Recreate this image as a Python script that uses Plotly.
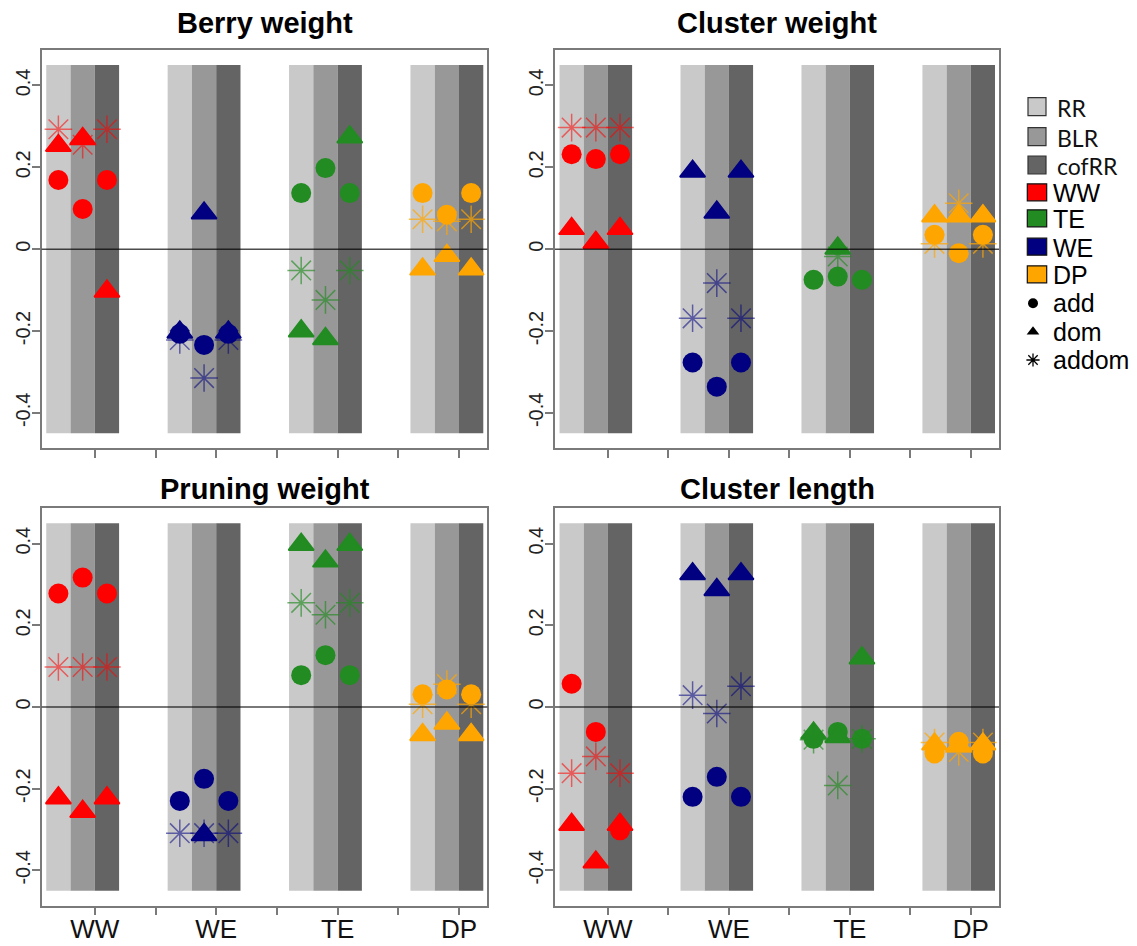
import plotly.graph_objects as go

# ---------------- data ----------------
traits = ["Berry weight", "Cluster weight", "Pruning weight", "Cluster length"]
populations = ["WW", "WE", "TE", "DP"]          # order along the x axis
methods = ["RR", "BLR", "cofRR"]                 # order inside each population
legend_pops = ["WW", "TE", "WE", "DP"]
effects = ["add", "dom", "addom"]

# values ordered: WW(RR,BLR,cofRR), WE(...), TE(...), DP(...)
berry_add   = [0.169, 0.098, 0.169,  -0.207, -0.234, -0.207,  0.137, 0.198, 0.137,  0.137, 0.084, 0.137]
berry_dom   = [0.253, 0.270, -0.103, -0.203, 0.088, -0.203,  -0.200, -0.219, 0.274, -0.049, -0.016, -0.049]
berry_addom = [0.293, 0.255, 0.293,  -0.222, -0.315, -0.222, -0.052, -0.124, -0.052, 0.073, 0.068, 0.073]

clw_add   = [0.232, 0.220, 0.232,  -0.277, -0.336, -0.277, -0.075, -0.067, -0.075, 0.035, -0.010, 0.035]
clw_dom   = [0.050, 0.016, 0.050,  0.190, 0.090, 0.190,    None, 0.002, None,     0.081, 0.081, 0.081]
clw_addom = [0.297, 0.297, 0.297,  -0.169, -0.083, -0.169, None, -0.018, None,    0.013, 0.112, 0.013]

prw_add   = [0.278, 0.317, 0.278,  -0.230, -0.176, -0.230, 0.078, 0.127, 0.078,   0.031, 0.043, 0.031]
prw_dom   = [-0.223, -0.256, -0.223, None, -0.313, None,   0.398, 0.357, 0.398,   -0.068, -0.040, -0.068]
prw_addom = [0.098, 0.098, 0.098,  -0.309, -0.309, -0.309, 0.255, 0.226, 0.255,   0.007, 0.056, 0.007]

cll_add   = [0.057, -0.061, -0.302, -0.220, -0.171, -0.220, -0.078, -0.061, -0.078, -0.114, -0.085, -0.114]
cll_dom   = [-0.288, -0.380, -0.288, 0.326, 0.287, 0.326,   -0.064, -0.073, 0.120,  -0.091, -0.095, -0.091]
cll_addom = [-0.162, -0.121, -0.162, 0.029, -0.016, 0.051,  -0.080, -0.192, -0.078, -0.087, -0.110, -0.087]

panel_values = [
    (berry_add, berry_dom, berry_addom),
    (clw_add, clw_dom, clw_addom),
    (prw_add, prw_dom, prw_addom),
    (cll_add, cll_dom, cll_addom),
]

y_ticks = [-0.4, -0.2, 0, 0.2, 0.4]
y_tick_text = ["-0.4", "-0.2", "0", "0.2", "0.4"]
x_tick_text = ["WW", "", "WE", "", "TE", "", "DP"]

# ---------------- styles / layout constants ----------------
W, H = 1137, 946
pop_colors = {"WW": "#FF0000", "WE": "#000080", "TE": "#228B22", "DP": "#FFA500"}
star_colors = {"WW": "rgba(255,0,0,0.55)", "WE": "rgba(0,0,128,0.55)",
               "TE": "rgba(34,139,34,0.65)", "DP": "rgba(255,165,0,0.7)"}
band_colors = ["#c9c9c9", "#989898", "#646464"]
group_center = [1.8, 3.8, 5.8, 7.8]
method_offset = [-0.4, 0.0, 0.4]
band_half = 0.45
XR = [1.125, 8.466]
YR = [-0.4866, 0.4866]
AX_COL = "#7a7a7a"
FONT = "Liberation Sans, Arial, sans-serif"

dom_x = [[41.7 / W, 487.3 / W], [555 / W, 999 / W]]
dom_y = [[1 - 448.3 / H, 1 - 50 / H], [1 - 905.7 / H, 1 - 508.3 / H]]

fig = go.Figure()
layout = dict(width=W, height=H, margin=dict(l=0, r=0, t=0, b=0, autoexpand=False),
              paper_bgcolor="white", plot_bgcolor="rgba(0,0,0,0)",
              showlegend=False, barmode="overlay", shapes=[], annotations=[])

for p in range(4):
    i = p + 1
    sfx = "" if i == 1 else str(i)
    xa, ya = "x" + sfx, "y" + sfx
    row, col = p // 2, p % 2
    xkey, ykey = "xaxis" + sfx, "yaxis" + sfx
    layout[xkey] = dict(domain=dom_x[col], range=XR, anchor=ya, automargin=False,
                        tickvals=[2, 3, 4, 5, 6, 7, 8],
                        ticktext=x_tick_text if row == 1 else [""] * 7,
                        ticks="outside", ticklen=8, tickwidth=1.5, tickcolor=AX_COL,
                        ticklabelstandoff=-9,
                        showline=True, mirror=True, linecolor=AX_COL, linewidth=1.5,
                        showgrid=False, zeroline=False,
                        tickfont=dict(family=FONT, size=26, color="#111"))
    layout[ykey] = dict(domain=dom_y[row], range=YR, anchor=xa, automargin=False,
                        tickvals=y_ticks, ticktext=y_tick_text, tickangle=-90,
                        ticks="outside", ticklen=8, tickwidth=1.5, tickcolor=AX_COL,
                        ticklabelstandoff=-6,
                        showline=True, mirror=True, linecolor=AX_COL, linewidth=1.5,
                        showgrid=False, zeroline=False,
                        tickfont=dict(family=FONT, size=20, color="#222"))
    # grey method bands
    for m, mcol in enumerate(band_colors):
        fig.add_trace(go.Bar(x=[g + method_offset[m] for g in group_center],
                             y=[2 * band_half] * 4, base=-band_half, width=0.4,
                             marker=dict(color=mcol, line=dict(width=0)),
                             xaxis=xa, yaxis=ya, hoverinfo="skip"))
    add_v, dom_v, addom_v = panel_values[p]
    for gi, pop in enumerate(populations):
        xs = [group_center[gi] + o for o in method_offset]
        sl = slice(3 * gi, 3 * gi + 3)
        fig.add_trace(go.Scatter(x=xs, y=add_v[sl], mode="markers", xaxis=xa, yaxis=ya,
                                 marker=dict(symbol="circle", size=20, color=pop_colors[pop],
                                             line=dict(width=0))))
        fig.add_trace(go.Scatter(x=xs, y=dom_v[sl], mode="markers", xaxis=xa, yaxis=ya,
                                 marker=dict(symbol="triangle-up", size=22, color=pop_colors[pop],
                                             line=dict(width=1.8, color=pop_colors[pop]))))
        fig.add_trace(go.Scatter(x=xs, y=addom_v[sl], mode="markers", xaxis=xa, yaxis=ya,
                                 marker=dict(symbol="asterisk-open", size=23,
                                             color=star_colors[pop],
                                             line=dict(width=1.5, color=star_colors[pop]))))
    # zero line
    layout["shapes"].append(dict(type="line", xref=f"{xa} domain", x0=0, x1=1,
                                 yref=ya, y0=0, y1=0, layer="above",
                                 line=dict(color="rgba(0,0,0,0.7)", width=1.5)))
    # panel title
    cx = (sum(dom_x[col]) / 2) * W
    ty = 22.5 if row == 0 else 489
    layout["annotations"].append(dict(text=f"<b>{traits[p]}</b>", xref="x5", yref="y5",
                                      x=cx, y=ty, showarrow=False, xanchor="center",
                                      yanchor="middle",
                                      font=dict(family=FONT, size=29, color="black")))

# overlay pixel axis for titles and legend
layout["xaxis5"] = dict(domain=[0, 1], range=[0, W], visible=False, anchor="y5",
                        automargin=False)
layout["yaxis5"] = dict(domain=[0, 1], range=[H, 0], visible=False, anchor="x5",
                        automargin=False)

rows_y = [106.7, 136.7, 165.0, 192.3, 218.3, 246.7, 274.3, 303.3, 331.7, 360.0]
# method legend (grey squares)
for k, name in enumerate(methods):
    yc = rows_y[k]
    layout["shapes"].append(dict(type="rect", xref="x5", yref="y5", x0=1028, x1=1046,
                                 y0=yc - 9, y1=yc + 9, fillcolor=band_colors[k],
                                 line=dict(color="#333", width=1.2), layer="above"))
    layout["annotations"].append(dict(text=name, xref="x5", yref="y5", x=1055, y=yc + 1,
                                      xanchor="left", yanchor="middle", showarrow=False,
                                      font=dict(family="Lato, Open Sans, sans-serif", size=23,
                                                color="#111")))
# population legend (coloured squares)
for k, pop in enumerate(legend_pops):
    yc = rows_y[3 + k]
    layout["shapes"].append(dict(type="rect", xref="x5", yref="y5", x0=1027.3, x1=1046.7,
                                 y0=yc - 8.5, y1=yc + 8.5, fillcolor=pop_colors[pop],
                                 line=dict(color="#111", width=1.2), layer="above"))
    layout["annotations"].append(dict(text=pop, xref="x5", yref="y5", x=1051, y=yc + 1,
                                      xanchor="left", yanchor="middle", showarrow=False,
                                      font=dict(family=FONT, size=25, color="black")))
# effect legend (symbols)
sym = [("circle", 10, None), ("triangle-up", 11, None), ("asterisk-open", 11, 1.3)]
for k, eff in enumerate(effects):
    yc = rows_y[7 + k]
    s, sz, lw = sym[k]
    mk = dict(symbol=s, size=sz, color="black", line=dict(color="black", width=lw or 0))
    fig.add_trace(go.Scatter(x=[1033], y=[yc], mode="markers", xaxis="x5", yaxis="y5",
                             marker=mk, hoverinfo="skip"))
    layout["annotations"].append(dict(text=eff, xref="x5", yref="y5", x=1051, y=yc,
                                      xanchor="left", yanchor="middle", showarrow=False,
                                      font=dict(family=FONT, size=25, color="black")))

fig.update_layout(**layout)
fig.write_html("out.html", config={"displayModeBar": False},
               post_script="document.body.style.margin='0';"
                           "document.documentElement.style.overflow='hidden';")
